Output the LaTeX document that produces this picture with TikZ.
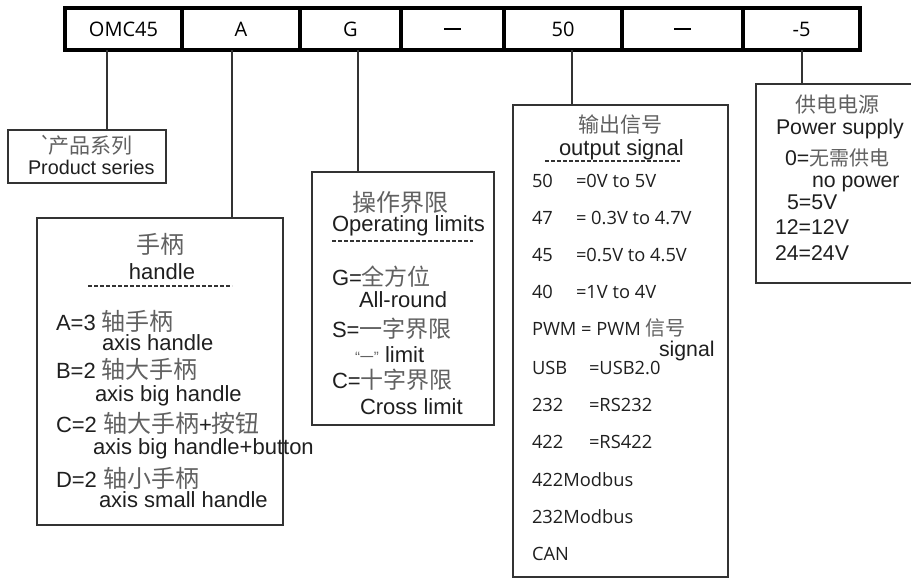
\documentclass[tikz,border=0pt]{standalone}
\usepackage{fontspec}
\setmainfont{Liberation Sans}
\newfontfamily\cjkf{Noto Sans CJK SC}
\newfontfamily\osans{Open Sans}
\newcommand\zhtxt[2]{{\cjkf\fontsize{#1}{#1}\selectfont\color{black!62}#2}}
\tikzset{
  cell/.style={draw=black, line width=3.5pt, minimum height=42pt, inner sep=0pt, outer sep=0pt,
               font=\osans\fontsize{20}{24}\selectfont},
  box/.style={draw=black!80, line width=1.8pt, inner sep=0pt, outer sep=0pt},
  conn/.style={draw=black!80, line width=1.6pt},
  dashline/.style={draw=black!80, line width=1.3pt, dash pattern=on 4pt off 2pt},
  txt/.style={anchor=base west, inner sep=0pt, outer sep=0pt, text=black!88},
  ctxt/.style={anchor=base, inner sep=0pt, outer sep=0pt, text=black!88},
  f22/.style={font=\fontsize{22}{26}\selectfont},
  f21/.style={font=\fontsize{21.3}{25}\selectfont},
  f20/.style={font=\fontsize{19.8}{24}\selectfont},
  fos/.style={font=\osans\fontsize{18.3}{22}\selectfont},
}
\begin{document}
\begin{tikzpicture}[x=1pt,y=-1pt]
\useasboundingbox (0,0) rectangle (911,579);
\fill[white] (0,0) rectangle (911,579);
\clip (0,0) rectangle (911,579);

% top code bar
\node[cell, minimum width=117pt] (c1) at (123.5,29) {OMC45};
\node[cell, minimum width=118pt] (c2) at (241,29) {A};
\node[cell, minimum width=101pt] (c3) at (350.5,29) {G};
\node[cell, minimum width=103pt] (c4) at (452.5,29) {\raisebox{-1pt}{\rule{17pt}{1.6pt}}};
\node[cell, minimum width=118pt] (c5) at (563,29) {50};
\node[cell, minimum width=121pt] (c6) at (682.5,29) {\raisebox{-1pt}{\rule{17pt}{1.6pt}}};
\node[cell, minimum width=117pt] (c7) at (801.5,29) {-5};

% boxes
\node[box, minimum width=158pt, minimum height=53pt] (ps) at (87,156.5) {};
\node[box, minimum width=246pt, minimum height=307pt] (hb) at (160,371.5) {};
\node[box, minimum width=182pt, minimum height=253pt] (ob) at (403,298.5) {};
\node[box, minimum width=215pt, minimum height=472pt] (sb) at (620.5,341) {};
\node[box, minimum width=170pt, minimum height=199pt] (pb) at (841,183.5) {};

% connectors
\draw[conn] (c1.south -| 107,0) -- (ps.north -| 107,0);
\draw[conn] (c2.south -| 232,0) -- (hb.north -| 232,0);
\draw[conn] (c3.south -| 358,0) -- (ob.north -| 358,0);
\draw[conn] (c5.south -| 572,0) -- (sb.north -| 572,0);
\draw[conn] (c7.south -| 802,0) -- (pb.north -| 802,0);

% product series
\node[ctxt] (ps1) at (86,153) {\zhtxt{21}{\textasciigrave\kern-3pt 产品系列}};
\node[txt, f20] (ps2) at (28,174) {Product series};

% handle
\node[ctxt] (h0) at (160,253) {\zhtxt{24}{手柄}};
\node[ctxt, f22] (h0e) at (162,279) {handle};
\coordinate (hd1) at (88,286);
\coordinate (hd2) at (232,286);
\draw[dashline] (hd1) -- (hd2);
\node[txt, f22] (h1) at (56,330) {A=3 \zhtxt{24}{轴手柄}};
\node[txt, f22] (h1e) at (102,350) {axis handle};
\node[txt, f22] (h2) at (56,378) {B=2 \zhtxt{24}{轴大手柄}};
\node[txt, f22] (h2e) at (95,401) {axis big handle};
\node[txt, f22] (h3) at (56,432) {C=2 \zhtxt{24}{轴大手柄}+\zhtxt{24}{按钮}};
\node[txt, f22] (h3e) at (93,454) {axis big handle+button};
\node[txt, f22] (h4) at (56,487) {D=2 \zhtxt{24}{轴小手柄}};
\node[txt, f22] (h4e) at (99,507) {axis small handle};

% operating limits
\node[ctxt] (o0) at (400,211) {\zhtxt{24}{操作界限}};
\node[txt, f22] (o0e) at (332,231) {Operating limits};
\coordinate (od1) at (332,241);
\coordinate (od2) at (473,241);
\draw[dashline] (od1) -- (od2);
\node[txt, f22] (o1) at (332,285) {G=\zhtxt{23}{全方位}};
\node[txt, f22] (o1e) at (359,307) {All-round};
\node[txt, f22] (o2) at (332,337) {S=\zhtxt{23}{一字界限}};
\node[txt, f22] (o2e) at (355,362) {\textcolor{black!60}{\fontsize{15}{15}\selectfont “\zhtxt{14}{一}”} limit};
\node[txt, f22] (o3) at (332,388) {C=\zhtxt{23}{十字界限}};
\node[txt, f22] (o3e) at (360,414) {Cross limit};

% output signal
\node[ctxt] (s0) at (620,132) {\zhtxt{21}{输出信号}};
\node[txt, f22] (s0e) at (559,155) {output signal};
\coordinate (sd1) at (545,161);
\coordinate (sd2) at (680,161);
\draw[dashline] (sd1) -- (sd2);
\foreach \k/\yy/\l/\v/\vx in {1/187/50/=0V to 5V/576, 2/224/47/= 0.3V to 4.7V/576,
   3/261/45/=0.5V to 4.5V/576, 4/298/40/=1V to 4V/576, 5/374/USB/=USB2.0/589,
   6/411/232/=RS232/589, 7/448/422/=RS422/589}{
  \node[txt, fos] (sl\k) at (532,\yy) {\l};
  \node[txt, fos] (sv\k) at (\vx,\yy) {\v};
}
\node[txt, fos] (sp) at (532,335) {PWM = PWM \zhtxt{20}{信号}};
\node[txt, f21] (spe) at (659,356) {signal};
\node[txt, fos] (sm1) at (532,486) {422Modbus};
\node[txt, fos] (sm2) at (532,523) {232Modbus};
\node[txt, fos] (sm3) at (532,560) {CAN};

% power supply
\node[ctxt] (p0) at (837,112) {\zhtxt{21}{供电电源}};
\node[txt, f21] (p0e) at (776,134) {Power supply};
\node[txt, f21] (p1) at (785,165) {0=\zhtxt{20}{无需供电}};
\node[txt, f21] (p1e) at (812,187) {no power};
\node[txt, f21] (p2) at (787,209) {5=5V};
\node[txt, f21] (p3) at (775,234) {12=12V};
\node[txt, f21] (p4) at (775,260) {24=24V};
\end{tikzpicture}
\end{document}
